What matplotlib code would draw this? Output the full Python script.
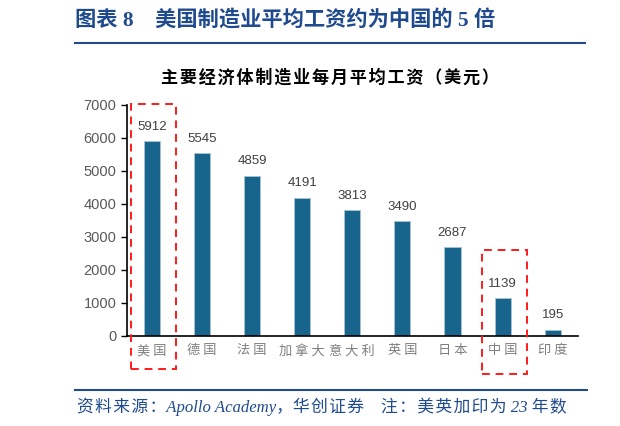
import matplotlib
matplotlib.use('Agg')
import matplotlib.pyplot as plt
from matplotlib.patches import Rectangle
from matplotlib.lines import Line2D

plt.rcParams['font.family'] = ['Noto Sans CJK SC', 'DejaVu Sans']

# 数据
countries = ['美 国', '德 国', '法 国', '加 拿 大', '意 大 利', '英 国', '日 本', '中 国', '印 度']
wages = [5912, 5545, 4859, 4191, 3813, 3490, 2687, 1139, 195]
yticks = [0, 1000, 2000, 3000, 4000, 5000, 6000, 7000]
highlight = [0, 7]            # 美国、中国
box_tops = [7030, 2600]
box_bottoms = [-1000, -1160]

bar_color = '#17648C'
navy = '#1F4B8E'
serif_cjk = ['Liberation Serif', 'Noto Sans CJK SC']

fig = plt.figure(figsize=(6.2, 4.26), dpi=100)
ax = fig.add_axes([0.2048, 0.2113, 0.727, 0.5423])

x = range(len(countries))
bars = ax.bar(x, wages, width=0.32, color=bar_color, edgecolor='#a8c4d6', linewidth=0.6)
for xi, v in zip(x, wages):
    ax.text(xi, v + 250, str(v), ha='center', va='bottom', fontsize=9.5,
            color='#404040', family=['Liberation Sans', 'DejaVu Sans'])

ax.set_xlim(-0.5, 8.5)
ax.set_ylim(0, 7000)
ax.set_yticks(yticks)
ax.set_yticklabels([str(t) for t in yticks], family=['Liberation Sans', 'DejaVu Sans'],
                   fontsize=10.5, color='#595959')
ax.set_xticks(list(x))
ax.set_xticklabels(countries, fontsize=9.5, color='#7f7f7f')
ax.tick_params(axis='x', length=0, pad=6)
ax.tick_params(axis='y', length=4, width=1, color='black', direction='out')
for s in ['top', 'right']:
    ax.spines[s].set_visible(False)
ax.spines['left'].set_linewidth(1.2)
ax.spines['bottom'].set_linewidth(1.2)

# 红色虚线框
for i, top, bot in zip(highlight, box_tops, box_bottoms):
    r = Rectangle((i - 0.42, bot), 0.9, top - bot, fill=False, edgecolor='#ff1a1a',
                  linewidth=1.4, linestyle=(0, (4, 3)), clip_on=False, zorder=5)
    ax.add_patch(r)

# 标题与分隔线
fig.text(0.121, 0.950, '图表 8    美国制造业平均工资约为中国的 5 倍', fontsize=15.3,
         fontweight='bold', color=navy, va='center', ha='left', family=serif_cjk)
fig.add_artist(Line2D([0.121, 0.944], [0.899, 0.899], color=navy, linewidth=1.5))
subtitle = '\u200a'.join('主要经济体制造业每月平均工资（美元）')
fig.text(0.532, 0.817, subtitle, fontsize=12.3, fontweight='bold', color='black',
         va='center', ha='center', family=['Noto Sans CJK SC', 'DejaVu Sans'])

fig.add_artist(Line2D([0.121, 0.946], [0.085, 0.085], color=navy, linewidth=1.5))
footer = '\u200a'.join('资料来源：') + 'Apollo Academy，' + '\u200a'.join('华创证券') \
    + '    ' + '\u200a'.join('注：美英加印为') + ' 23 ' + '\u200a'.join('年数')
fig.text(0.124, 0.045, footer, fontsize=12.1, style='italic', color=navy,
         va='center', ha='left', family=serif_cjk)

fig.savefig('out.png', dpi=100)
